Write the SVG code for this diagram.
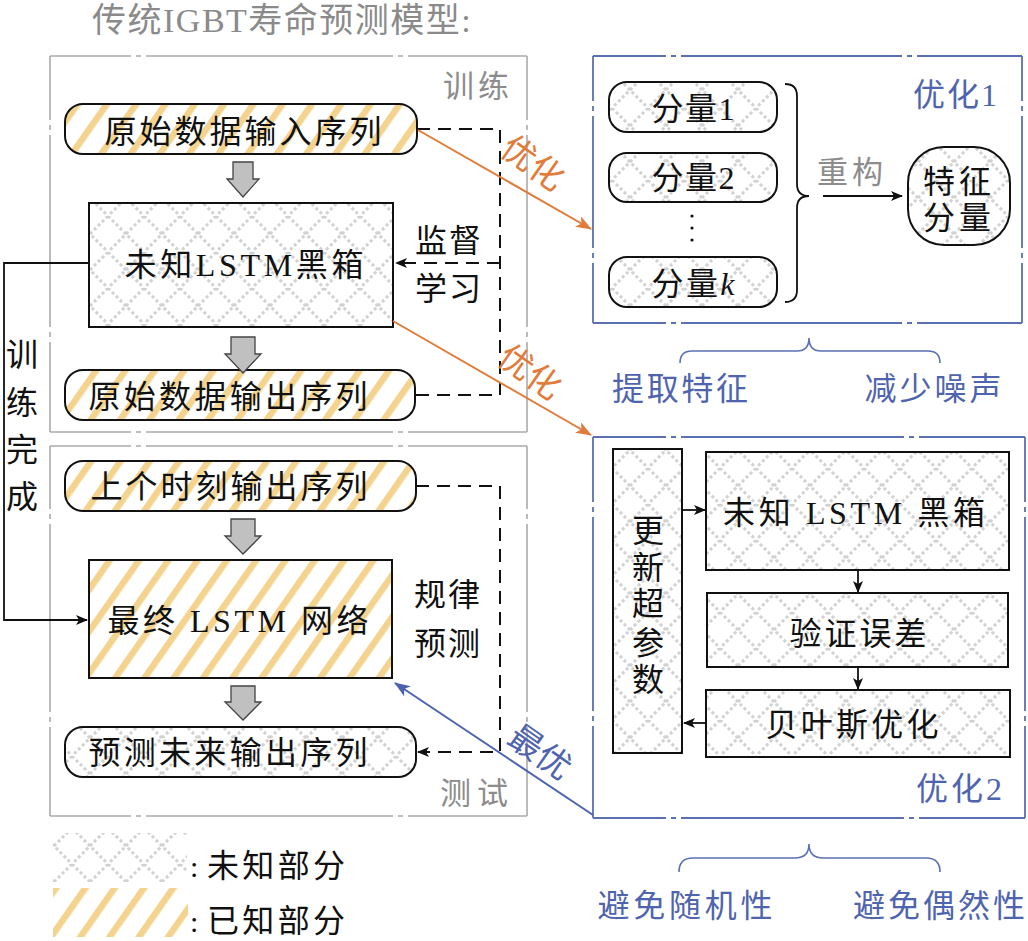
<svg xmlns="http://www.w3.org/2000/svg" width="1028" height="941" viewBox="0 0 1028 941">
<style>
text{font-family:'Liberation Serif','Noto Sans CJK SC',serif;}
.t{font-size:32px;fill:#111;text-anchor:middle;}
.g{font-size:31px;fill:#8c8c8c;text-anchor:middle;}
.b{font-size:32px;fill:#4f64ae;text-anchor:middle;}
.o{font-size:34px;fill:#e07b39;text-anchor:middle;}
.bl{font-size:34px;fill:#4f64ae;text-anchor:middle;}
.gb{stroke:#aaaaaa;stroke-width:1.6;fill:none;}
.bb{stroke:#5b70b2;stroke-width:1.8;fill:none;}
.n{stroke:#111;stroke-width:2;}
.ga{fill:#c0c0c0;stroke:#444;stroke-width:1.3;}
.dash{stroke:#111;stroke-width:2;fill:none;stroke-dasharray:13 8;}
.sol{stroke:#111;stroke-width:1.8;fill:none;}
</style>
<defs>
<pattern id="unk" width="36" height="36" patternUnits="userSpaceOnUse">
<rect width="36" height="36" fill="#fff"/>
<path d="M0,0 L36,36 M36,0 L0,36" stroke="#d2d2d2" stroke-width="3" stroke-dasharray="3 2.6"/>
</pattern>
<pattern id="kn" width="24" height="24" patternUnits="userSpaceOnUse" patternTransform="rotate(35)">
<rect width="24" height="24" fill="#fff"/>
<rect width="6.5" height="24" fill="#f3d38e"/>
</pattern>
<marker id="ak" viewBox="0 0 12 10" refX="11" refY="5" markerWidth="12" markerHeight="10" markerUnits="userSpaceOnUse" orient="auto">
<path d="M0,0 L12,5 L0,10 L3,5 z" fill="#111"/>
</marker>
<marker id="ao" viewBox="0 0 16 12" refX="15" refY="6" markerWidth="16" markerHeight="12" markerUnits="userSpaceOnUse" orient="auto">
<path d="M0,0 L16,6 L0,12 L4,6 z" fill="#e07b39"/>
</marker>
<marker id="ab" viewBox="0 0 16 12" refX="15" refY="6" markerWidth="16" markerHeight="12" markerUnits="userSpaceOnUse" orient="auto">
<path d="M0,0 L16,6 L0,12 L4,6 z" fill="#4a62b0"/>
</marker>
</defs>
<rect width="1028" height="941" fill="#fff"/>

<text x="92" y="32" font-size="34" letter-spacing="1.5" fill="#8a8a8a">传统IGBT寿命预测模型:</text>

<!-- frames -->
<g id="frame-train">
<path class="gb" d="M50,56 H527" stroke-dasharray="81 5 5 5 247 5 5 5 119 1000"/>
<path class="gb" d="M50,432 H527" stroke-dasharray="81 5 5 5 247 5 5 5 119 1000"/>
<path class="gb" d="M50,56 V432" stroke-dasharray="64 5 5 5 192 5 5 5 90 1000"/>
<path class="gb" d="M527,56 V432" stroke-dasharray="64 5 5 5 192 5 5 5 90 1000"/>
<text class="g" x="476" y="97" textLength="66" lengthAdjust="spacing">训练</text>
</g>
<g id="frame-test">
<path class="gb" d="M50,446 H527" stroke-dasharray="81 5 5 5 247 5 5 5 119 1000"/>
<path class="gb" d="M50,816 H527" stroke-dasharray="81 5 5 5 247 5 5 5 119 1000"/>
<path class="gb" d="M50,446 V816" stroke-dasharray="63 5 5 5 188 5 5 5 89 1000"/>
<path class="gb" d="M527,446 V816" stroke-dasharray="63 5 5 5 188 5 5 5 89 1000"/>
<text class="g" x="474" y="804" textLength="68" lengthAdjust="spacing">测试</text>
</g>
<g id="frame-opt1">
<path class="bb" d="M593,56 H1022" stroke-dasharray="73 5 5 5 221 5 5 5 105 1000"/>
<path class="bb" d="M593,323 H1022" stroke-dasharray="73 5 5 5 221 5 5 5 105 1000"/>
<path class="bb" d="M593,56 V323" stroke-dasharray="45 5 5 5 132 5 5 5 60 1000"/>
<path class="bb" d="M1022,56 V323" stroke-dasharray="45 5 5 5 132 5 5 5 60 1000"/>
<text class="b" x="955" y="106" textLength="84" lengthAdjust="spacing">优化1</text>
</g>
<g id="frame-opt2">
<path class="bb" d="M593,437 H1025" stroke-dasharray="73 5 5 5 223 5 5 5 106 1000"/>
<path class="bb" d="M593,818 H1025" stroke-dasharray="73 5 5 5 223 5 5 5 106 1000"/>
<path class="bb" d="M593,437 V818" stroke-dasharray="65 5 5 5 194 5 5 5 92 1000"/>
<path class="bb" d="M1025,437 V818" stroke-dasharray="65 5 5 5 194 5 5 5 92 1000"/>
<text class="b" x="959" y="800" textLength="86" lengthAdjust="spacing">优化2</text>
</g>

<!-- left nodes -->
<g id="n-in">
<rect class="n" x="65" y="104" width="352" height="50" rx="18" fill="url(#kn)"/>
<text class="t" x="243" y="143" textLength="277" lengthAdjust="spacing">原始数据输入序列</text>
</g>
<g id="n-black">
<rect class="n" x="89" y="203" width="304" height="124" fill="url(#unk)"/>
<text class="t" x="244" y="276" font-size="34" textLength="239" lengthAdjust="spacing">未知LSTM黑箱</text>
</g>
<g id="n-out">
<rect class="n" x="65" y="370" width="350" height="50" rx="18" fill="url(#kn)"/>
<text class="t" x="228" y="408" textLength="279" lengthAdjust="spacing">原始数据输出序列</text>
</g>
<g id="n-prev">
<rect class="n" x="65" y="461" width="351" height="50" rx="18" fill="url(#kn)"/>
<text class="t" x="229" y="498" textLength="277" lengthAdjust="spacing">上个时刻输出序列</text>
</g>
<g id="n-final">
<rect class="n" x="89" y="560" width="303" height="118" fill="url(#kn)"/>
<text class="t" x="238" y="632" textLength="261" lengthAdjust="spacing">最终 LSTM 网络</text>
</g>
<g id="n-pred">
<rect class="n" x="65" y="727" width="351" height="50" rx="18" fill="url(#unk)"/>
<text class="t" x="228" y="764" textLength="279" lengthAdjust="spacing">预测未来输出序列</text>
</g>

<!-- block arrows -->
<g id="block-arrows">
<path class="ga" d="M233,162 H253 V179 H259 L243,197 L227,179 H233 Z"/>
<path class="ga" d="M231,337 H255 V354 H261 L243,373 L225,354 H231 Z"/>
<path class="ga" d="M231,519 H255 V536 H261 L243,554 L225,536 H231 Z"/>
<path class="ga" d="M231,686 H255 V702 H261 L243,720 L225,702 H231 Z"/>
</g>

<!-- opt1 nodes -->
<g id="n-c1">
<rect class="n" x="609" y="82" width="168" height="50" rx="18" fill="url(#unk)"/>
<text class="t" x="693" y="120" textLength="83" lengthAdjust="spacing">分量1</text>
</g>
<g id="n-c2">
<rect class="n" x="609" y="153" width="168" height="49" rx="18" fill="url(#unk)"/>
<text class="t" x="693" y="189" textLength="83" lengthAdjust="spacing">分量2</text>
</g>
<g id="n-ck">
<rect class="n" x="609" y="257" width="168" height="50" rx="18" fill="url(#unk)"/>
<text class="t" x="693" y="295" textLength="83" lengthAdjust="spacing">分量<tspan font-style="italic">k</tspan></text>
</g>
<g id="dots">
<circle cx="692" cy="216" r="1.6" fill="#111"/>
<circle cx="692" cy="228" r="1.6" fill="#111"/>
<circle cx="692" cy="240" r="1.6" fill="#111"/>
</g>
<g id="n-feat">
<rect class="n" x="908" y="147" width="102" height="98" rx="36" fill="url(#unk)"/>
<text class="t" x="957" y="193" textLength="68" lengthAdjust="spacing">特征</text>
<text class="t" x="957" y="229" textLength="68" lengthAdjust="spacing">分量</text>
</g>

<!-- opt2 nodes -->
<g id="n-upd">
<rect class="n" x="613" y="449" width="69" height="304" fill="url(#unk)"/>
<text class="t" x="648" y="542">更</text>
<text class="t" x="648" y="579">新</text>
<text class="t" x="648" y="615">超</text>
<text class="t" x="648" y="654">参</text>
<text class="t" x="648" y="691">数</text>
</g>
<g id="n-lstm2">
<rect class="n" x="706" y="452" width="303" height="118" fill="url(#unk)"/>
<text class="t" x="854" y="524" textLength="262" lengthAdjust="spacing">未知 LSTM 黑箱</text>
</g>
<g id="n-val">
<rect class="n" x="707" y="593" width="301" height="74" fill="url(#unk)"/>
<text class="t" x="858" y="645" textLength="137" lengthAdjust="spacing">验证误差</text>
</g>
<g id="n-bayes">
<rect class="n" x="706" y="690" width="304" height="67" fill="url(#unk)"/>
<text class="t" x="852" y="736" textLength="173" lengthAdjust="spacing">贝叶斯优化</text>
</g>

<!-- connectors -->
<g id="connectors">
<path class="dash" d="M417,129 H500 V395 H415"/>
<path class="dash" d="M500,263 H396" marker-end="url(#ak)"/>
<path class="dash" d="M416,486 H500 V752 H418" marker-end="url(#ak)"/>
<path class="sol" d="M89,263 H4 V620 H87" marker-end="url(#ak)"/>
<line x1="418" y1="130" x2="591" y2="229" stroke="#e07b39" stroke-width="2" marker-end="url(#ao)"/>
<line x1="393" y1="321" x2="591" y2="435" stroke="#e07b39" stroke-width="2" marker-end="url(#ao)"/>
<line x1="593" y1="815" x2="395" y2="683" stroke="#4a62b0" stroke-width="2" marker-end="url(#ab)"/>
<path class="sol" d="M823,196 H902" marker-end="url(#ak)"/>
<path class="sol" d="M785,84 Q797,84 797,96 L797,184 Q797,196 809,196 Q797,196 797,208 L797,290 Q797,302 785,302"/>
<path class="sol" d="M682,510 H705" marker-end="url(#ak)"/>
<path class="sol" d="M858,570 V592" marker-end="url(#ak)"/>
<path class="sol" d="M858,667 V689" marker-end="url(#ak)"/>
<path class="sol" d="M706,723 H684" marker-end="url(#ak)"/>
<path d="M680,363 Q680,351 692,351 L797,351 Q809,351 809,338 Q809,351 821,351 L928,351 Q940,351 940,363" stroke="#5b70b2" stroke-width="1.6" fill="none"/>
<path d="M679,872 Q679,858 693,858 L795,858 Q809,858 809,844 Q809,858 823,858 L926,858 Q940,858 940,872" stroke="#5b70b2" stroke-width="1.6" fill="none"/>
</g>

<!-- labels -->
<text class="t" x="448" y="252" textLength="66" lengthAdjust="spacing">监督</text>
<text class="t" x="448" y="300" textLength="66" lengthAdjust="spacing">学习</text>
<text class="t" x="447" y="606" textLength="66" lengthAdjust="spacing">规律</text>
<text class="t" x="447" y="655" textLength="66" lengthAdjust="spacing">预测</text>
<text class="t" x="22" y="366">训</text>
<text class="t" x="22" y="414">练</text>
<text class="t" x="22" y="461">完</text>
<text class="t" x="22" y="508">成</text>
<text class="g" x="850" y="183" textLength="66" lengthAdjust="spacing">重构</text>
<text class="o" transform="translate(533,163) rotate(35)" x="0" y="12">优化</text>
<text class="o" transform="translate(530,372) rotate(35)" x="0" y="12">优化</text>
<text class="bl" transform="translate(540,752) rotate(35)" x="0" y="12">最优</text>
<text class="b" x="680" y="400" textLength="136" lengthAdjust="spacing">提取特征</text>
<text class="b" x="933" y="400" textLength="137" lengthAdjust="spacing">减少噪声</text>
<text class="b" x="685" y="917" textLength="175" lengthAdjust="spacing">避免随机性</text>
<text class="b" x="939" y="917" textLength="172" lengthAdjust="spacing">避免偶然性</text>

<!-- legend -->
<g id="legend">
<rect x="53" y="833" width="134" height="49" fill="url(#unk)"/>
<rect x="53" y="888" width="135" height="49" fill="url(#kn)"/>
<text x="190" y="877" font-size="30" fill="#111">:</text>
<text x="190" y="932" font-size="30" fill="#111">:</text>
<text class="t" x="276" y="877" textLength="138" lengthAdjust="spacing">未知部分</text>
<text class="t" x="276" y="932" textLength="138" lengthAdjust="spacing">已知部分</text>
</g>
</svg>
